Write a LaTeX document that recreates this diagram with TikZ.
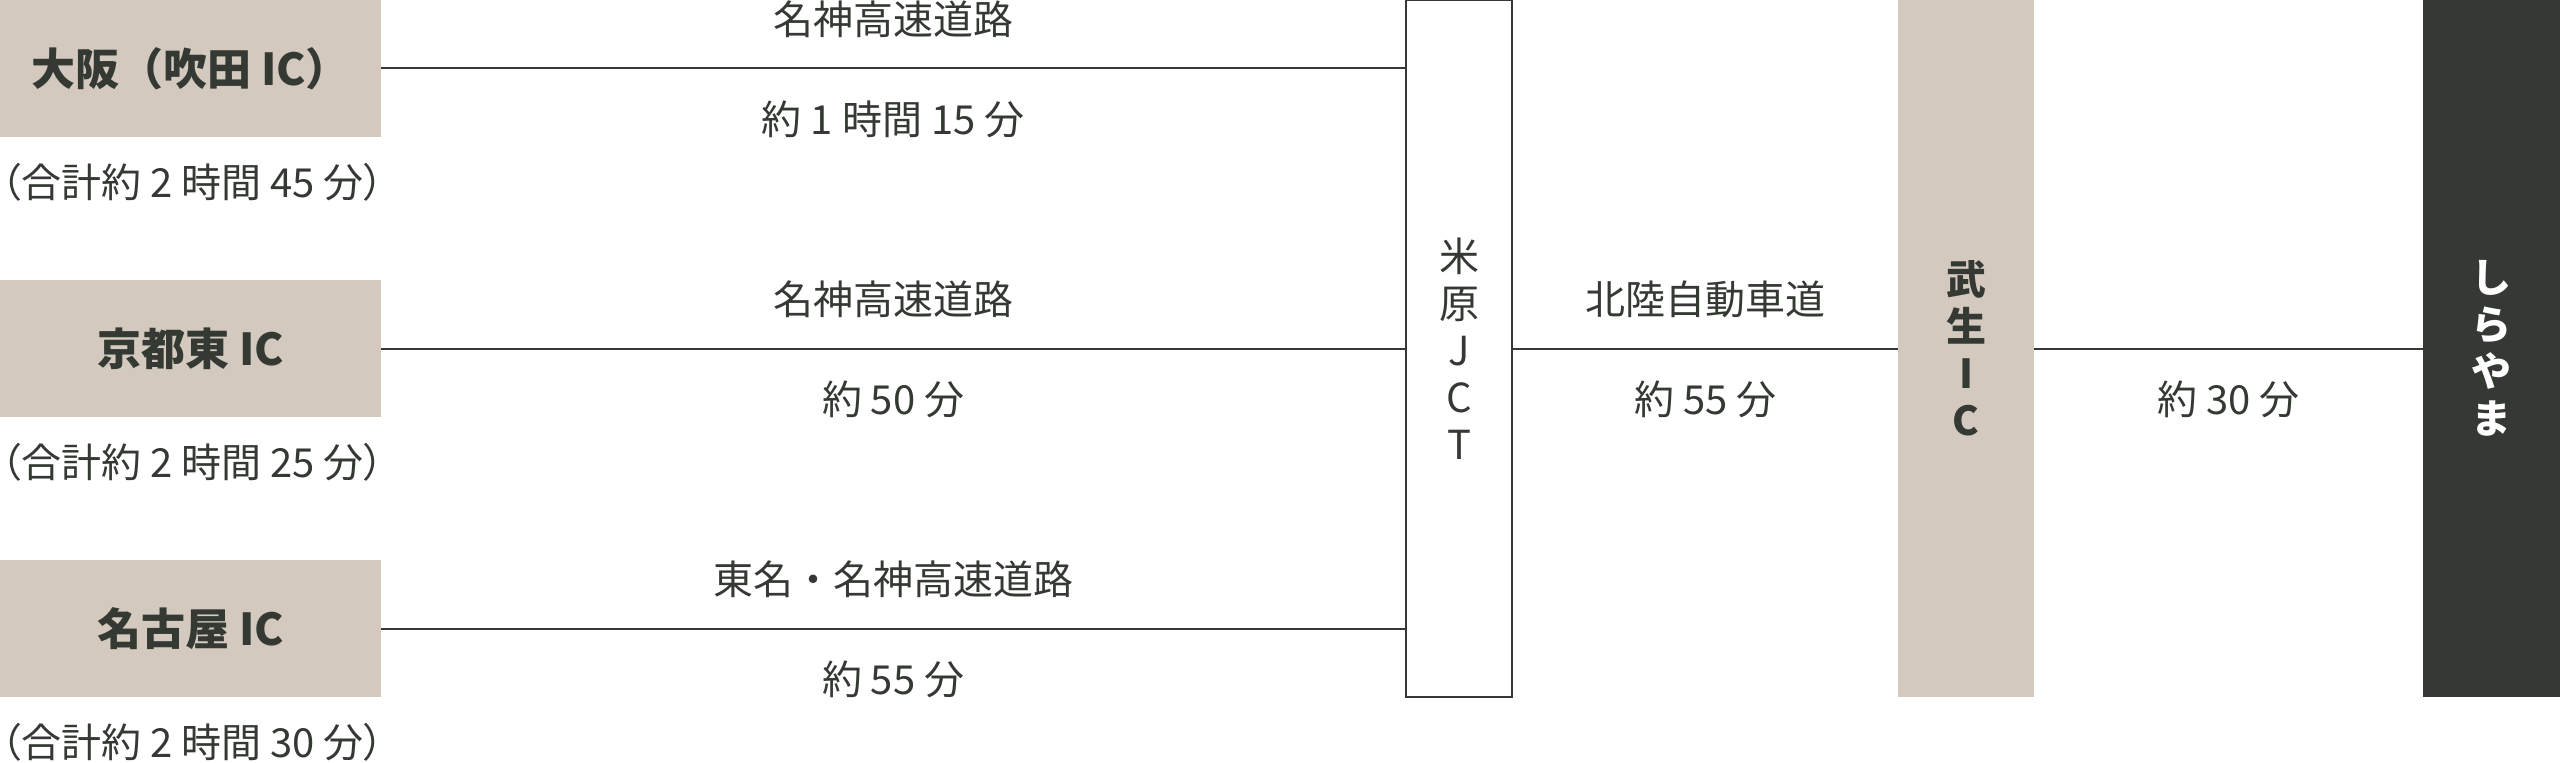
\documentclass[tikz,border=0pt]{standalone}
\usepackage{fontspec}
\setmainfont{Noto Sans CJK JP}
\newfontfamily\paltfont{Noto Sans CJK JP}[RawFeature=+palt]
\usepackage{xcolor}
\usepackage{tikz}
\definecolor{ink}{HTML}{343A33}
\definecolor{sand}{HTML}{D3C9BF}

\begin{document}
\begin{tikzpicture}[x=1pt, y=1pt,
  every node/.style={text=ink, inner sep=0pt},
  origin/.style={fill=sand, minimum width=190.5pt, minimum height=68.5pt, font=\fontsize{22}{26}\selectfont\bfseries},
  total/.style={anchor=west, xshift=0.6pt, yshift=-22.5pt, font=\paltfont\fontsize{20}{24}\selectfont},
  road/.style={font=\fontsize{20}{24}\selectfont},
  tall/.style={minimum height=348pt, align=center, font=\fontsize{20}{23.5}\selectfont},
  route/.style={draw=ink, line width=1pt}]
  \useasboundingbox (0,0) rectangle (1280,381);
  \node[origin] (osaka) at (95.25,346.75) {大阪（吹田 IC）};
  \node[origin] (kyoto) at (95.25,206.75) {京都東 IC};
  \node[origin] (nagoya) at (95.25,66.75) {名古屋 IC};
  \node[total] (osakatotal) at (osaka.south west) {（合計約 2 時間 45 分）};
  \node[total] (kyotototal) at (kyoto.south west) {（合計約 2 時間 25 分）};
  \node[total] (nagoyatotal) at (nagoya.south west) {（合計約 2 時間 30 分）};
  \node[tall, draw=ink, line width=1pt, minimum width=53pt] (maibara) at (729.5,206.75) {米\\原\\J\\C\\T};
  \node[tall, fill=sand, minimum width=68pt, font=\fontsize{20}{23.5}\selectfont\bfseries] (takefu) at (983,206.75) {武\\生\\I\\C};
  \node[tall, fill=ink, text=white, minimum width=68.5pt, font=\fontsize{20}{23.5}\selectfont\bfseries] (shirayama) at (1245.75,206.75) {し\\ら\\や\\ま};
  \draw[route] (osaka.east) -- node[road, yshift=24.5pt] (road1) {名神高速道路} node[road, yshift=-25.5pt] (time1) {約 1 時間 15 分} (osaka.east -| maibara.west);
  \draw[route] (kyoto.east) -- node[road, yshift=24.5pt] (road2) {名神高速道路} node[road, yshift=-25.5pt] (time2) {約 50 分} (maibara.west);
  \draw[route] (nagoya.east) -- node[road, yshift=24.5pt] (road3) {東名・名神高速道路} node[road, yshift=-25.5pt] (time3) {約 55 分} (nagoya.east -| maibara.west);
  \draw[route] (maibara.east) -- node[road, yshift=24.5pt] (road4) {北陸自動車道} node[road, yshift=-25.5pt] (time4) {約 55 分} (takefu.west);
  \draw[route] (takefu.east) -- node[road, yshift=-25.5pt] (time5) {約 30 分} (shirayama.west);
\end{tikzpicture}
\end{document}
